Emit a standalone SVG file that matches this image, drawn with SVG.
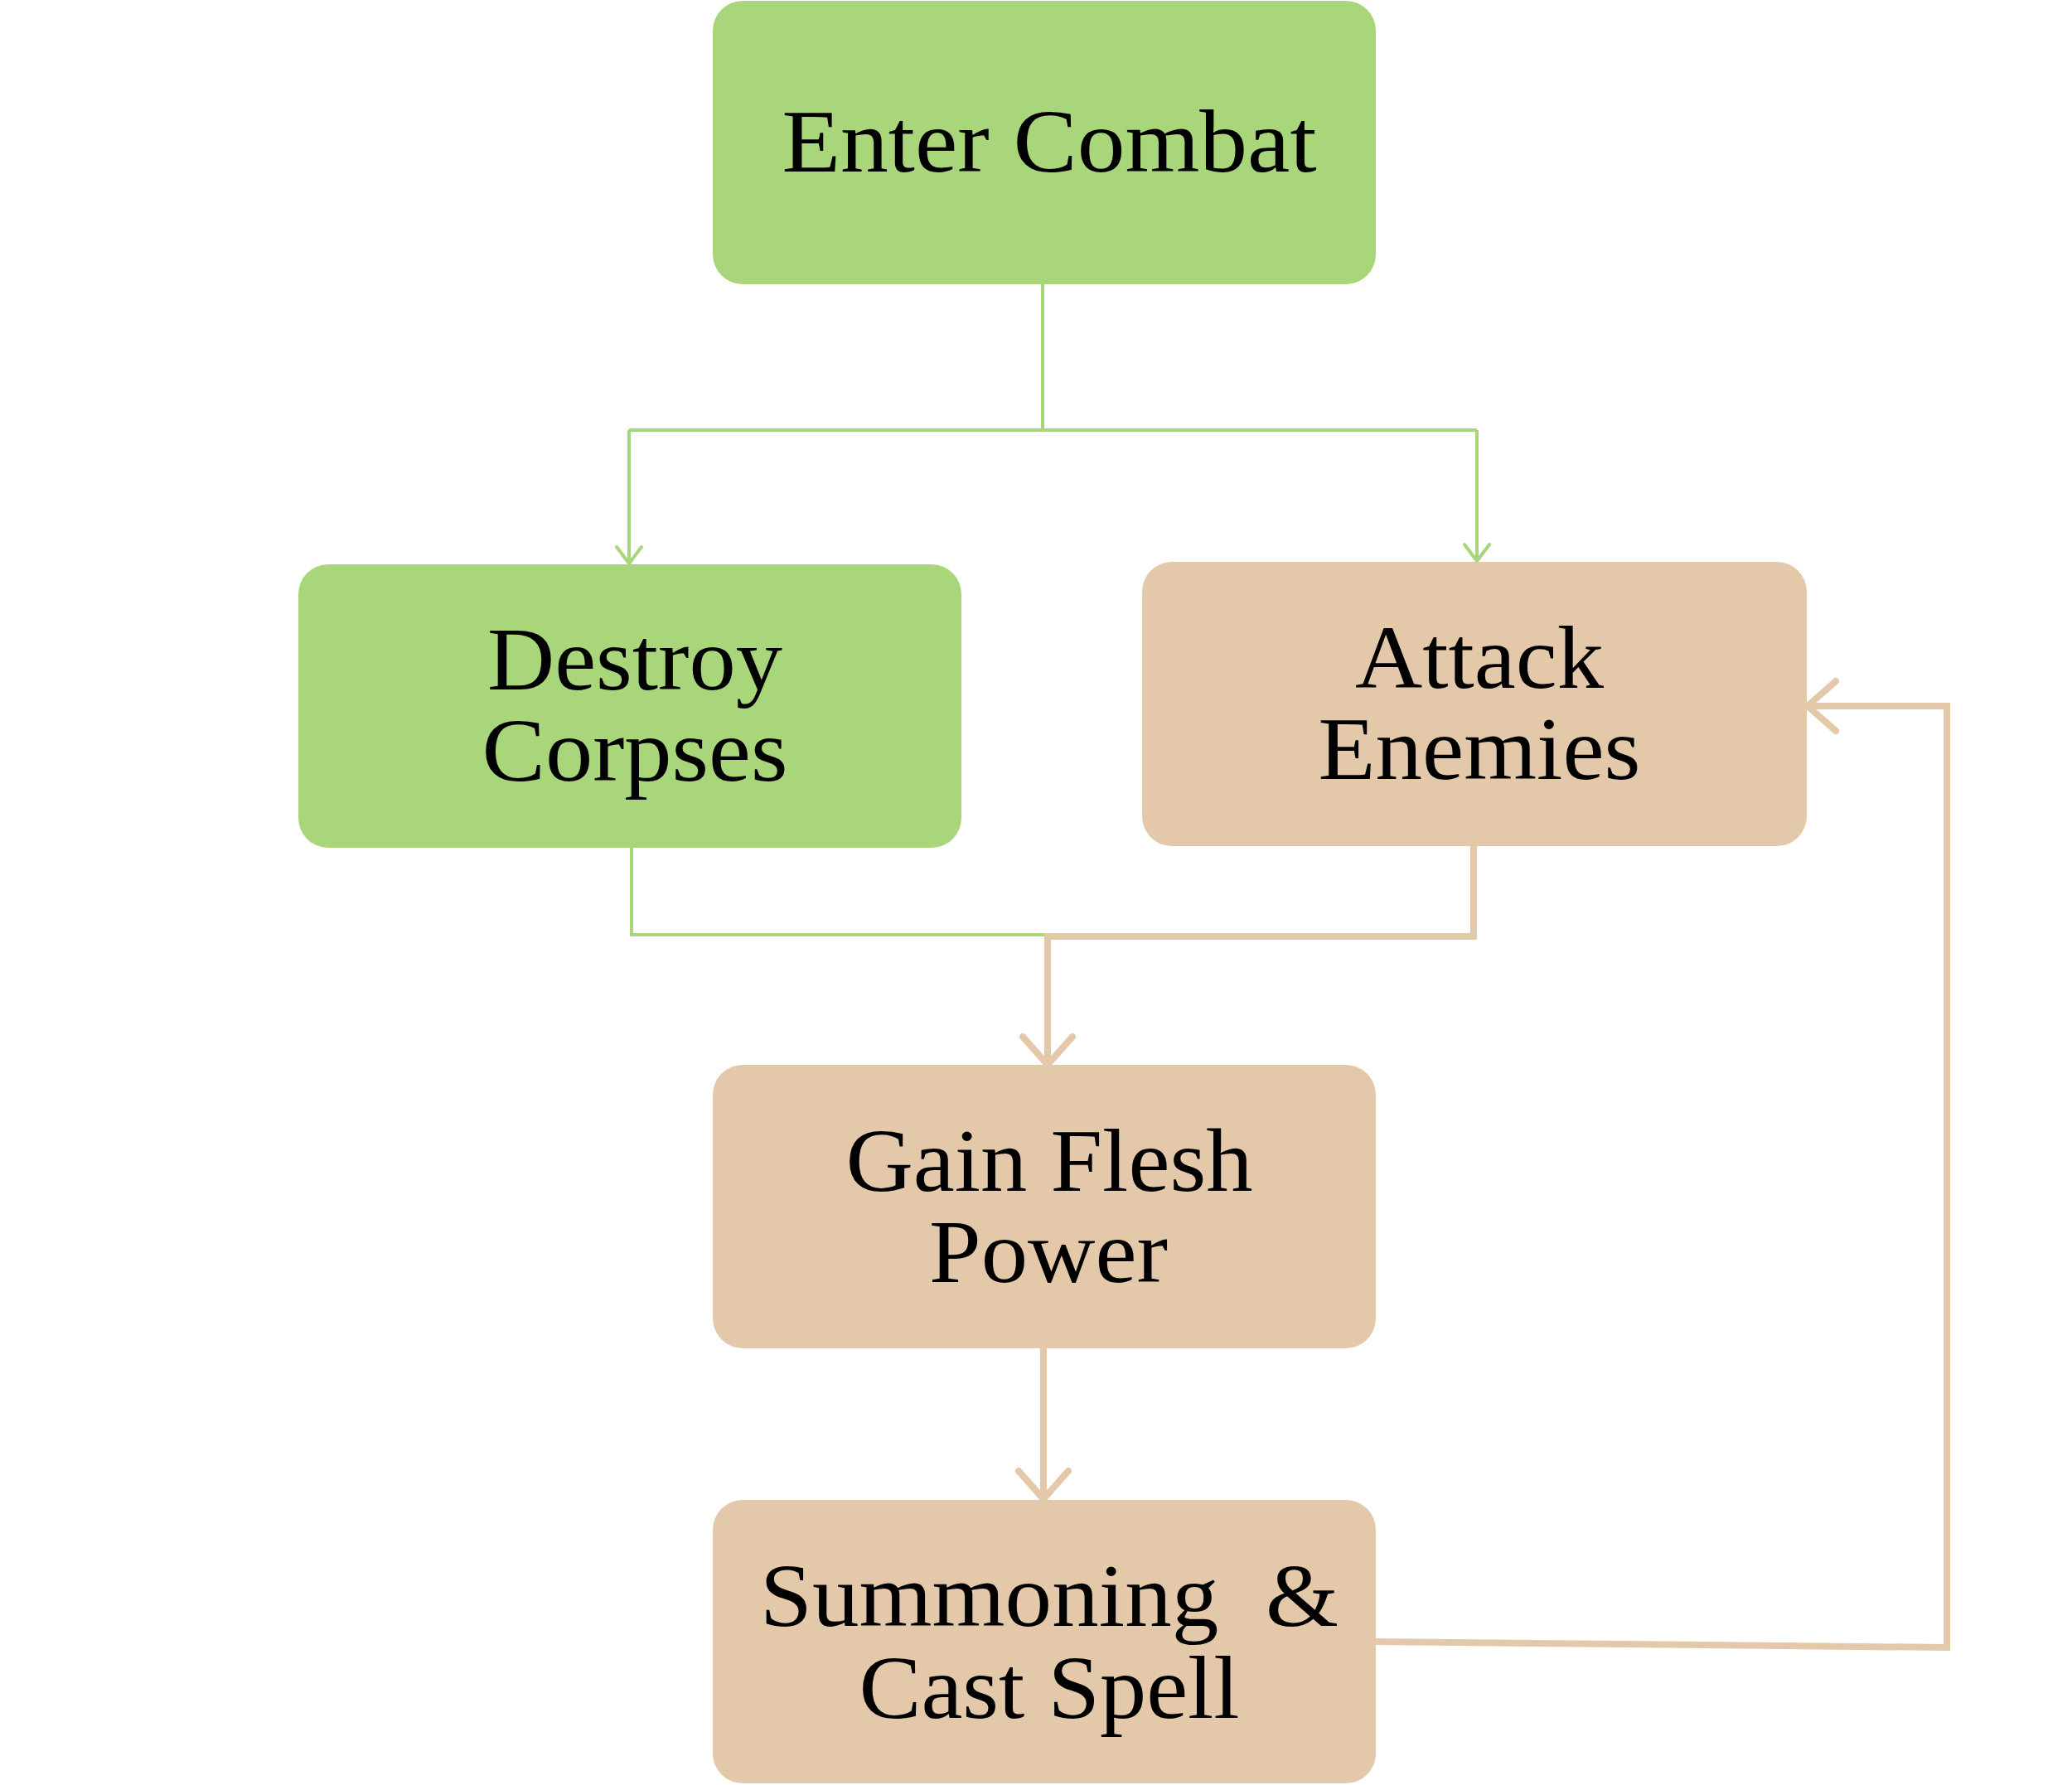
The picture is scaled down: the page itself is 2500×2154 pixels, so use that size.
<svg xmlns="http://www.w3.org/2000/svg" width="2500" height="2154" viewBox="0 0 2500 2154">
  <style>
    .green { fill: #A9D67B; }
    .tan { fill: #E3C9AA; }
    .lbl { font-family: "Liberation Serif", "DejaVu Serif", serif; font-size: 108px; fill: #000; text-anchor: middle; white-space: pre; }
    .cg { fill: none; stroke: #A9D67B; stroke-width: 4; stroke-linejoin: miter; }
    .ct { fill: none; stroke: #E3C9AA; stroke-width: 8; stroke-linejoin: miter; }
  </style>
  <defs>
    <marker id="arrG" markerUnits="userSpaceOnUse" viewBox="-50 -50 100 100" markerWidth="100" markerHeight="100" refX="0" refY="0" orient="auto" overflow="visible">
      <path d="M-20,-15 L0,0 L-20,15" fill="none" stroke="#A9D67B" stroke-width="4" stroke-linecap="round" stroke-linejoin="round"/>
    </marker>
    <marker id="arrT" markerUnits="userSpaceOnUse" viewBox="-50 -50 100 100" markerWidth="100" markerHeight="100" refX="0" refY="0" orient="auto" overflow="visible">
      <path d="M-34,-30 L0,0 L-34,30" fill="none" stroke="#E3C9AA" stroke-width="8" stroke-linecap="round" stroke-linejoin="round"/>
    </marker>
  </defs>

  <rect width="2500" height="2154" fill="#FFFFFF"/>

  <g id="connectors">
    <path class="cg" d="M1258,343 L1258,519"/>
    <path class="cg" d="M759,519 L1782,519"/>
    <path class="cg" d="M759,519 L759,680" marker-end="url(#arrG)"/>
    <path class="cg" d="M1782,519 L1782,677" marker-end="url(#arrG)"/>
    <path class="cg" d="M762,1022 L762,1128 L1262,1128"/>
    <path class="ct" d="M1778,1021 L1778,1130 L1264,1130 L1264,1285" marker-end="url(#arrT)"/>
    <path class="ct" d="M1259,1627 L1259,1809" marker-end="url(#arrT)"/>
    <path class="ct" d="M1660,1981 L2349,1988 L2349,852 L2181,852" marker-end="url(#arrT)"/>
  </g>

  <g id="node-enter-combat">
    <rect class="green" x="860" y="1" width="800" height="342" rx="36" ry="36"/>
    <text class="lbl" x="1266" y="207" textLength="645" lengthAdjust="spacingAndGlyphs">Enter Combat</text>
  </g>

  <g id="node-destroy-corpses">
    <rect class="green" x="360" y="681" width="800" height="342" rx="36" ry="36"/>
    <text class="lbl" x="766" y="832" textLength="356" lengthAdjust="spacingAndGlyphs">Destroy</text>
    <text class="lbl" x="766" y="942" textLength="369" lengthAdjust="spacingAndGlyphs">Corpses</text>
  </g>

  <g id="node-attack-enemies">
    <rect class="tan" x="1378" y="678" width="802" height="343" rx="36" ry="36"/>
    <text class="lbl" x="1785" y="830" textLength="300" lengthAdjust="spacingAndGlyphs">Attack</text>
    <text class="lbl" x="1785" y="940" textLength="389" lengthAdjust="spacingAndGlyphs">Enemies</text>
  </g>

  <g id="node-gain-flesh-power">
    <rect class="tan" x="860" y="1285" width="800" height="342" rx="36" ry="36"/>
    <text class="lbl" x="1266" y="1437" textLength="491" lengthAdjust="spacingAndGlyphs">Gain Flesh</text>
    <text class="lbl" x="1265" y="1547" textLength="288" lengthAdjust="spacingAndGlyphs">Power</text>
  </g>

  <g id="node-summoning-cast-spell">
    <rect class="tan" x="860" y="1810" width="800" height="342" rx="36" ry="36"/>
    <text class="lbl" x="1266" y="1962" textLength="698" lengthAdjust="spacingAndGlyphs" xml:space="preserve">Summoning  &amp;</text>
    <text class="lbl" x="1266" y="2073" textLength="459" lengthAdjust="spacingAndGlyphs">Cast Spell</text>
  </g>
</svg>
